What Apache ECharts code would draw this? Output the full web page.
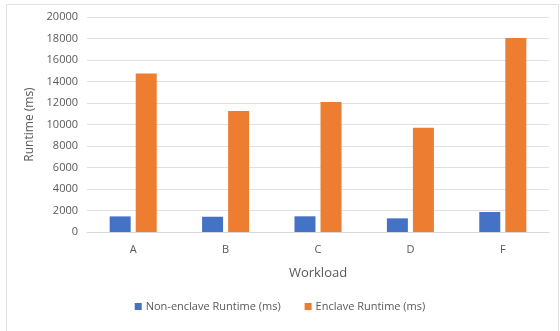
<!DOCTYPE html>
<html>
<head>
<meta charset="utf-8">
<script src="https://cdn.jsdelivr.net/npm/echarts@6/dist/echarts.min.js"></script>
<style>
html,body{margin:0;padding:0;background:#fff;}
#c{width:560px;height:331px;}
</style>
</head>
<body>
<div id="c"></div>
<script>
const categories = ['A', 'B', 'C', 'D', 'F'];
const nonEnclave = [1450, 1420, 1460, 1270, 1860];
const enclave = [14750, 11250, 12100, 9700, 18050];
const yTicks = [0, 2000, 4000, 6000, 8000, 10000, 12000, 14000, 16000, 18000, 20000];

const txt = '#595959';
const font = '"Open Sans", "Liberation Sans", sans-serif';
const chart = echarts.init(document.getElementById('c'), null, {renderer: 'canvas'});
chart.setOption({
  animation: false,
  backgroundColor: '#fff',
  textStyle: {fontFamily: font},
  graphic: [{
    type: 'rect', left: 4, top: 2,
    shape: {width: 552, height: 327},
    style: {fill: 'none', stroke: '#e2e2e2', lineWidth: 1},
    silent: true, z: -1
  }],
  grid: {left: 87, right: 11, top: 17, bottom: 99},
  legend: {
    bottom: 14, left: 'center',
    itemWidth: 7, itemHeight: 7, itemGap: 24,
    icon: 'rect',
    textStyle: {color: txt, fontSize: 11, fontFamily: font, padding: [0, 0, 0, -1]},
    data: ['Non-enclave Runtime (ms)', 'Enclave Runtime (ms)']
  },
  xAxis: {
    type: 'category',
    data: categories,
    name: 'Workload',
    nameLocation: 'middle',
    nameGap: 35,
    nameTextStyle: {color: txt, fontSize: 13, fontFamily: font},
    axisLine: {lineStyle: {color: '#d9d9d9'}},
    axisTick: {show: false},
    axisLabel: {color: txt, fontSize: 11, margin: 12, fontFamily: font}
  },
  yAxis: {
    type: 'value',
    min: yTicks[0],
    max: yTicks[yTicks.length - 1],
    interval: 2000,
    name: 'Runtime (ms)',
    nameLocation: 'middle',
    nameGap: 49,
    nameTextStyle: {color: txt, fontSize: 12, fontFamily: font},
    axisLine: {show: false},
    axisTick: {show: false},
    axisLabel: {color: txt, fontSize: 11, margin: 9, fontFamily: font,
      formatter: function (v) { return String(v); }},
    splitLine: {lineStyle: {color: '#e0e0e0'}}
  },
  series: [
    {name: 'Non-enclave Runtime (ms)', type: 'bar', data: nonEnclave,
     barWidth: 21, barGap: '24%', itemStyle: {color: '#4472C4'}},
    {name: 'Enclave Runtime (ms)', type: 'bar', data: enclave,
     barWidth: 21, barGap: '24%', itemStyle: {color: '#ED7D31'}}
  ]
});
</script>
</body>
</html>
